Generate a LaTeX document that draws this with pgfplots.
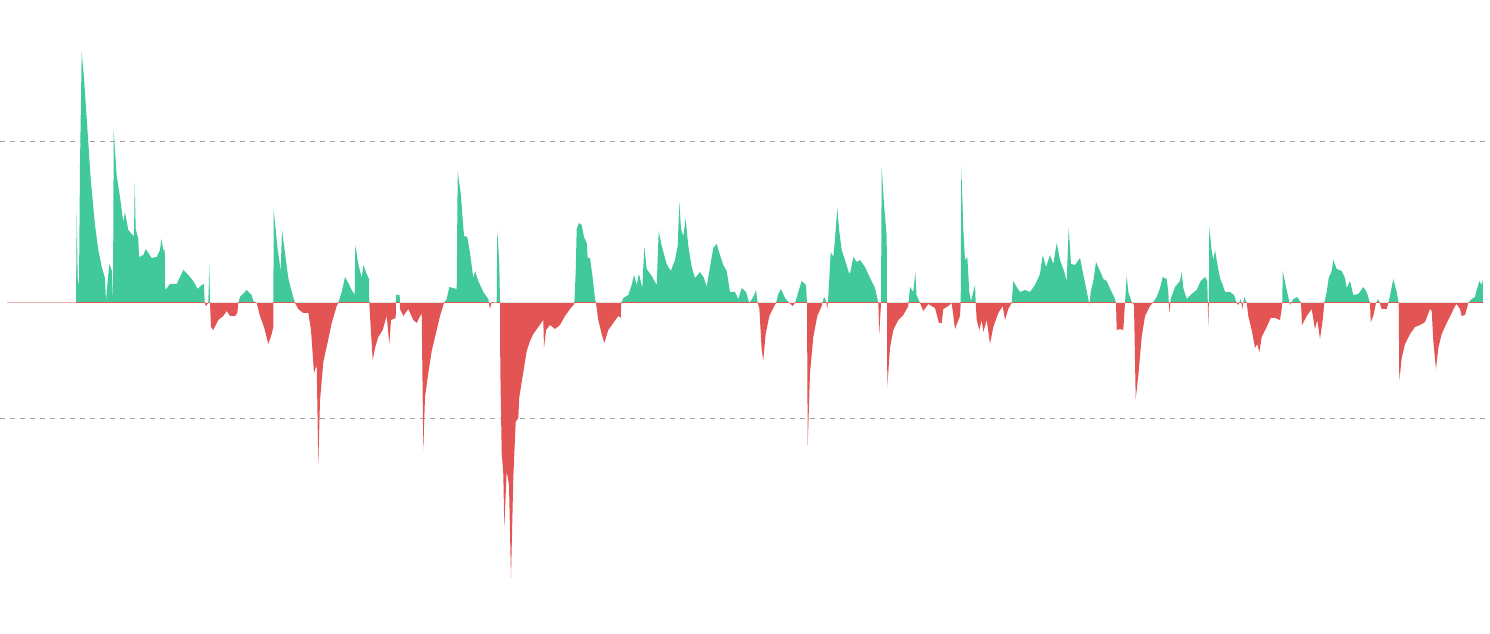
\documentclass[border=0pt]{standalone}
\usepackage{pgfplots}
\usepackage{pgfplotstable}
\pgfplotsset{compat=1.18}

\definecolor{upgreen}{HTML}{42C99B}
\definecolor{downred}{HTML}{E35454}
\definecolor{gridgray}{HTML}{A0A0A0}

% x in px, value in px above the zero line
\pgfplotstableread{
x y
7 0
76 0
76.7 91
77.7 25
79 18
80 138
81.7 251
84 225
87.3 176
90.7 124
95 78
98.3 53
101.7 36
105 25
106 1
106.7 11
109.3 39
112 32
113 0
113.7 172
116.7 127
120 106
123.3 81
125 91
128.3 73
131.7 69
134 67
134.7 121
135.7 74
138.3 64
139 46
143.3 48
145.7 54
151.7 45
156.7 46
160 53
161.3 64
163.3 53
164.7 53
165.3 13
170 19
176.7 19
183.3 33
188.3 28
193.3 22
197.7 14
201.7 18
204 19
204.7 0
206 -3
208.3 0
209.3 38
210 0
211 -24
213.3 -27
218.3 -17
223.3 -13
226.7 -8
230 -13
235 -13
237.3 -10
238.3 0
240 6
246.7 13
251.7 8
253.3 2
256.7 0
260 -13
264 -24
268.3 -41
271.7 -31
273.3 -24
273.7 93
277.3 57
280.7 32
282 73
285 50
288.3 25
291.7 11
295 0
298.3 -6
303.3 -10
308.3 -10
311 -27
314 -70
316.7 -62
318.3 -161
320 -98
323.3 -59
327.3 -41
331.7 -20
336.7 -3
338.3 0
341.7 11
345 26
348.3 20
351.7 13
354.7 8
355.3 58
358.3 39
361.7 25
363.3 38
366.7 29
369 24
369.3 0
370 -13
372.7 -57
375 -45
378.3 -34
382.7 -27
386.7 -13
389.3 -41
391 -17
395.7 -15
396 8
399.7 8
400 -6
403.3 -13
408.3 -6
413.3 -17
416.7 -20
421.7 -10
423.3 -147
425 -94
428.3 -70
431.7 -48
436.7 -27
440 -13
444 0
446.7 4
449.3 16
456.7 14
457.7 131
460.7 110
464 67
467.3 66
470 50
473.3 25
475 32
478.3 22
483.3 11
488.3 4
490 -6
491.7 1
496.7 0
497.3 73
499.3 39
500 0
500.3 -66
501.7 -150
503.3 -171
504.3 -224
506.7 -168
509 -182
511 -275
513.3 -175
515.7 -119
518.3 -115
519.3 -94
522.7 -73
526.7 -48
530 -38
533.3 -31
538.3 -24
543.3 -17
544 -45
546 -27
550 -22
555 -26
560 -22
565 -13
570 -6
574.3 -1
575.7 31
576.7 74
579 80
581.7 78
584 66
586.7 60
587.7 45
590 45
592.7 25
595 4
596 0
598.3 -17
601.7 -31
604.3 -40
608.3 -27
613.3 -20
618.3 -13
620.7 -15
621.3 0
623.3 5
628.3 8
631.7 18
634 28
636.7 18
639 29
642.3 15
644.3 56
646.7 34
651.7 27
656.7 18
658.7 72
661.7 57
666.7 39
670.7 32
675 43
677.7 57
679.3 101
681 74
683.3 67
685.7 84
688.3 57
691.7 36
695 25
700 31
704 25
706.7 16
710 36
713.3 55
716.7 59
720 48
723.3 38
726.7 32
730 11
735 11
738.3 4
741.7 15
746 11
749.3 0
753.3 6
756 13
757.7 0
759.3 -5
761.7 -47
763.3 -57
765.7 -31
769.3 -13
774.3 -3
776 0
778.3 9
781 14
785 5
789.3 0
792.7 -3
795 0
798.3 11
801.7 22
806 18
807 0
807.7 -143
810 -70
813.3 -34
817.3 -13
821.7 -3
824 6
826 2
827.3 -6
828.3 6
830.7 51
833.3 46
835 64
837.3 95
839 74
841.7 53
845 43
848.3 32
850 29
853.3 46
856.7 41
860 43
865 36
870 25
875 15
878.3 0
879.3 -31
881 0
881.7 136
884 99
886.7 67
887 0
887.3 -84
890 -45
893.3 -27
898.3 -17
903.3 -12
908.3 -3
910 16
913.3 11
915.3 31
916.5 8
918.3 4
920 0
923.3 -8
928.3 -1
935 -5
939 -20
941.7 -20
943.3 -6
948.3 -3
951.7 0
955 -26
957.3 -20
960 -13
960.7 0
961.3 137
963.3 74
965 43
967.3 46
969.3 11
971 2
975 18
975.7 0
976.7 -17
979.3 -27
981.7 -17
983.3 -29
986.7 -17
990 -41
993.3 -24
998.3 -10
1002.7 -3
1005 -17
1008.3 -6
1011.7 0
1013.3 22
1016.7 16
1020 11
1025 13
1030 11
1035 18
1040 29
1042.7 48
1046 36
1050 48
1053.3 39
1056.7 60
1060 43
1064 32
1066.7 22
1068.7 75
1071 39
1075 38
1080 45
1084 25
1088.3 4
1089.3 -2
1090.7 11
1093.3 22
1096 41
1100 32
1103.3 24
1106.7 22
1110.7 13
1115 4
1116 0
1116.7 -27
1120 -26
1123.3 -27
1125 0
1126.7 27
1128.3 11
1131.7 1
1134 -2
1135.7 -96
1138.3 -73
1141.7 -34
1145 -13
1150 -3
1152.7 0
1156.7 6
1160 15
1162.7 26
1166.7 24
1168.3 11
1169.3 -10
1170.7 4
1175 16
1180 22
1181.7 31
1183.3 15
1186.7 4
1191.7 9
1196.7 13
1200.7 22
1205 26
1207.3 22
1207.8 0
1208.3 -24
1208.8 0
1209.3 77
1211.7 52
1213.3 43
1215 53
1217.3 39
1220 25
1222.7 18
1225 11
1230 11
1234 8
1236.7 0
1238.3 -2
1240.7 4
1242.3 -6
1244.3 6
1246.7 0
1248.3 -13
1251.7 -27
1255 -45
1257.3 -41
1259.3 -49
1261.7 -34
1266.7 -24
1270.7 -15
1275 -15
1280 -17
1281.7 -6
1282.3 0
1282.7 32
1286 16
1288.3 6
1290 -2
1293.3 4
1297.3 6
1301 0
1302 -22
1306.7 -13
1311.7 -6
1315 -26
1317.3 -17
1320 -36
1322.7 -17
1324.3 0
1326.7 11
1328.7 25
1331.7 32
1333.3 43
1336.7 34
1341.7 32
1345 25
1346.7 15
1350 22
1353.3 8
1358.3 9
1363.3 16
1366.7 11
1370 0
1370.7 -19
1373.3 -13
1376 0
1378.3 4
1381.7 -6
1386.7 -6
1388.3 0
1390 7
1393.3 24
1396.7 11
1398.7 0
1399.3 -78
1401.7 -55
1405 -41
1410 -31
1415 -24
1420 -22
1425 -19
1430 -6
1431.7 -8
1433.3 -38
1436 -66
1438.3 -45
1441.7 -31
1446.7 -20
1451.7 -10
1455 -3
1456.7 -1
1460 -6
1461.7 -13
1465 -12
1466.7 -6
1468.3 0
1471.7 4
1475 6
1476.7 13
1479.3 22
1481.7 18
1482.7 24
1483 0
}\flowdata

\begin{document}
\begin{tikzpicture}
\begin{axis}[
    scale only axis,
    width=745pt, height=316.5pt,
    xmin=0, xmax=1490,
    ymin=-330, ymax=303,
    axis line style={draw=none},
    xtick=\empty,
    ytick={-115,161},
    yticklabels={},
    major tick length=0pt,
    ymajorgrids,
    grid style={gridgray, line width=0.5pt, dash pattern=on 2.5pt off 2.5pt},
    clip=true,
]
\begin{scope}
  \clip (axis cs:0,0) rectangle (axis cs:1490,303);
  \addplot[draw=none, fill=upgreen] table[x=x, y=y] {\flowdata} \closedcycle;
\end{scope}
\begin{scope}
  \clip (axis cs:0,-330) rectangle (axis cs:1490,0);
  \addplot[draw=none, fill=downred] table[x=x, y=y] {\flowdata} \closedcycle;
\end{scope}
\addplot[draw=downred!45, line width=0.5pt] coordinates {(7,0) (76,0)};
\end{axis}
\pgfresetboundingbox
\path (current axis.south west) rectangle (current axis.north east);
\end{tikzpicture}
\end{document}
